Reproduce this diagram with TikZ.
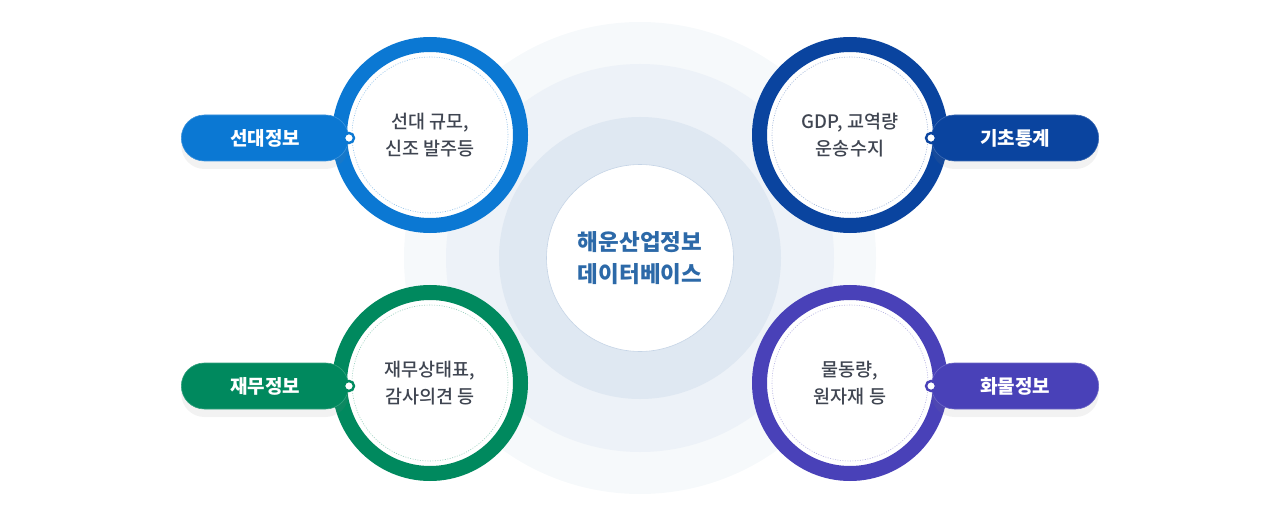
\documentclass[tikz,border=0pt]{standalone}
\usepackage{fontspec}
\newfontfamily\kr{Noto Sans CJK KR}
\newfontfamily\krmed{Noto Sans CJK KR Medium}
\usetikzlibrary{shapes.misc,shadows}
\definecolor{shipblue}{HTML}{0B78D3}
\definecolor{statnavy}{HTML}{0A449F}
\definecolor{fingreen}{HTML}{00895E}
\definecolor{cargopurple}{HTML}{4941B8}
\definecolor{halo1}{HTML}{F6F9FB}
\definecolor{halo2}{HTML}{EDF2F8}
\definecolor{halo3}{HTML}{DFE8F2}
\definecolor{coreline}{HTML}{C5D4E6}
\definecolor{coretext}{HTML}{2C69A8}
\definecolor{bodytext}{HTML}{3F4551}
\begin{document}
\begin{tikzpicture}[x=1pt,y=-1pt,
    ring/.style={circle,draw=#1,line width=15pt,fill=white,minimum size=181pt,
        text=bodytext,align=center,font=\krmed\fontsize{18.5}{27}\selectfont},
    rim/.style={draw=#1,line width=.6pt,dash pattern=on 1pt off 1.5pt},
    pill/.style={rounded rectangle,fill=#1,draw=#1!80!white,line width=.6pt,
        minimum width=174pt,minimum height=46pt,text=white,
        font=\kr\bfseries\fontsize{19}{20}\selectfont,
        drop shadow={shadow xshift=0pt,shadow yshift=-8pt,opacity=.1}},
    knob/.style={circle,fill=white,draw=#1,line width=2.4pt,inner sep=0pt,minimum size=10pt}]
                \useasboundingbox (0,0) rectangle (1280,516);
                % background halo
                \fill[halo1] (640,258) circle[radius=236pt];
                \fill[halo2] (640,258) circle[radius=194pt];
                \fill[halo3] (640,258) circle[radius=141pt];
                \node[circle,fill=white,draw=coreline,line width=.6pt,minimum size=187pt,
                    text=coretext,align=center,font=\kr\bfseries\fontsize{22.5}{32}\selectfont]
                    (core) at (640,258) {해운산업정보\\데이터베이스};
                % four rings
                \node[ring=shipblue] (ship) at (430,135) {선대 규모,\\신조 발주등};
                \node[ring=statnavy] (stat) at (850,135) {GDP, 교역량\\운송수지};
                \node[ring=fingreen] (fin) at (430,383) {재무상태표,\\감사의견 등};
                \node[ring=cargopurple] (cargo) at (850,383) {물동량,\\원자재 등};
                \draw[rim=shipblue!45!white] (ship) circle[radius=78pt];
                \draw[rim=statnavy!40!white] (stat) circle[radius=78pt];
                \draw[rim=fingreen!40!white] (fin) circle[radius=78pt];
                \draw[rim=cargopurple!40!white] (cargo) circle[radius=78pt];
                % tags
                \node[pill=shipblue] (shipTag) at (265,138) {선대정보};
                \node[pill=statnavy] (statTag) at (1015,138) {기초통계};
                \node[pill=fingreen] (finTag) at (265,386) {재무정보};
                \node[pill=cargopurple] (cargoTag) at (1015,386) {화물정보};
                \node[knob=shipblue] (shipKnob) at (shipTag.east) {};
                \node[knob=statnavy] (statKnob) at (statTag.west) {};
                \node[knob=fingreen] (finKnob) at (finTag.east) {};
                \node[knob=cargopurple] (cargoKnob) at (cargoTag.west) {};
\end{tikzpicture}
\end{document}
